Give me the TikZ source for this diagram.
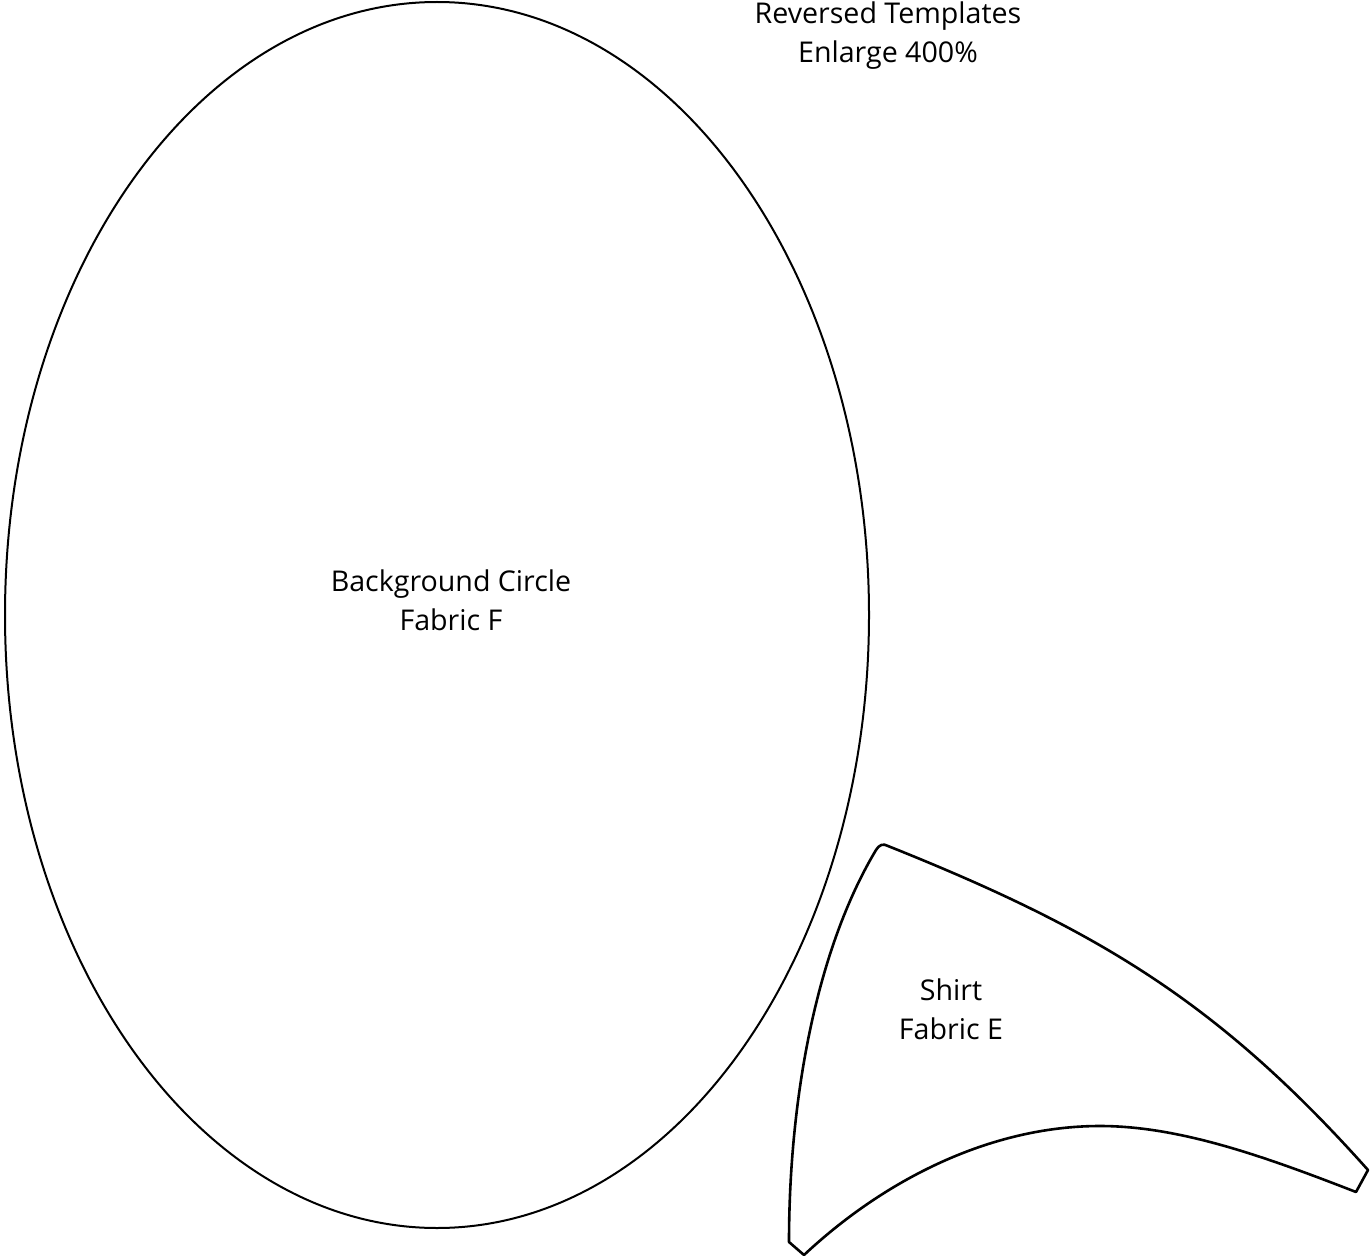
\documentclass[tikz,border=0pt]{standalone}
\usepackage{fontspec}
\setmainfont{Open Sans}
\begin{document}
\begin{tikzpicture}[x=1pt,y=-1pt,
  outline/.style={draw=black, line width=2pt},
  shirtline/.style={draw=black, line width=2.6pt, line join=round},
  lbl/.style={align=center, inner sep=0pt, font=\fontsize{28.6}{39}\selectfont}]
\useasboundingbox (0,0) rectangle (1370,1257);
% background circle
\draw[outline] (437,615) ellipse [x radius=432pt, y radius=613pt];
\node[lbl] (bgtext) at (451,600) {Background Circle\\Fabric F};
\node[lbl] (title) at (888,36) {Reversed Templates\\Enlarge 400\%};
% shirt
\coordinate (sA) at (888,846);
\coordinate (sB) at (1368,1170);
\coordinate (sC) at (1356,1192);
\coordinate (sD) at (1100,1126);
\coordinate (sE) at (804,1255);
\coordinate (sF) at (789,1242);
\coordinate (sG) at (876,850);
\draw[shirtline]
  (sA) .. controls (1098,930) and (1218,1002) .. (sB)
  -- (sC)
  .. controls (1266,1157) and (1180,1126) .. (sD)
  .. controls (990,1126) and (884,1180) .. (sE)
  -- (sF)
  .. controls (789,1100) and (816,950) .. (sG)
  .. controls (879,845) and (883,843) .. (sA)
  -- cycle;
\node[lbl] (shirttext) at (951,1009) {Shirt\\Fabric E};
\end{tikzpicture}
\end{document}
